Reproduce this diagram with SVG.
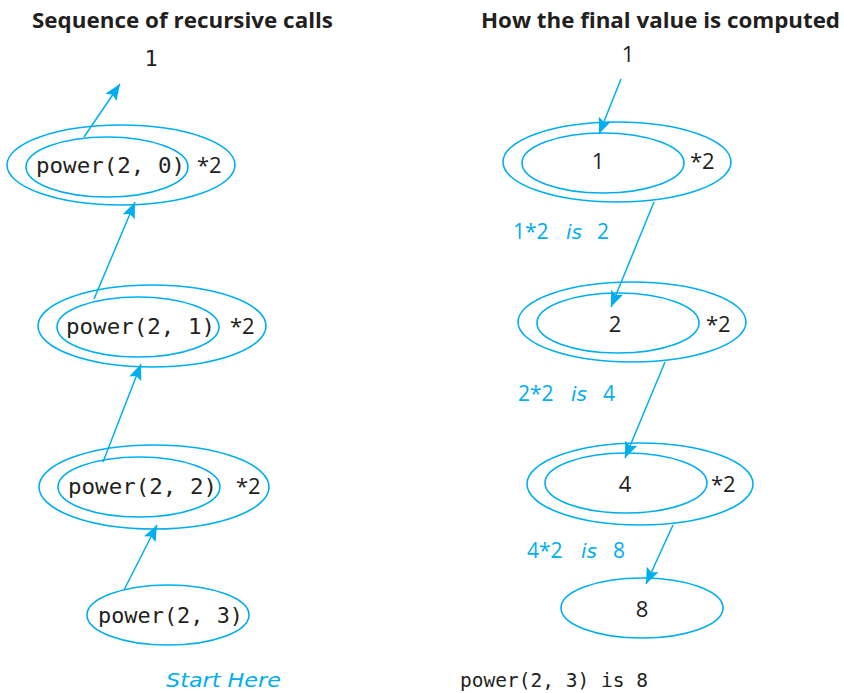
<svg xmlns="http://www.w3.org/2000/svg" width="844" height="693" viewBox="0 0 844 693">
<style>
  .ell{fill:none;stroke:#00aeef;stroke-width:1.6}
  .con{stroke:#00aeef;stroke-width:1.5;fill:none;marker-end:url(#ah)}
  .title{font-family:"Open Sans","Liberation Sans",sans-serif;font-weight:bold;font-size:22px;fill:#231f20}
  .mono{font-family:"DejaVu Sans Mono","Liberation Mono",monospace;font-size:22px;fill:#231f20}
  .sans{font-family:"Open Sans","Liberation Sans",sans-serif;font-size:22px;fill:#231f20}
  .blue{font-family:"Open Sans","Liberation Sans",sans-serif;font-size:21px;fill:#00aeef}
  .hand{font-family:"DejaVu Sans","Liberation Sans",sans-serif;font-style:italic;font-weight:300;font-size:20px;fill:#00aeef}
</style>
<defs>
  <marker id="ah" markerUnits="userSpaceOnUse" markerWidth="18" markerHeight="13" refX="16" refY="6.5" orient="auto">
    <path d="M0,0 L16,6.5 L0,13 L3,6.5 Z" fill="#00aeef"/>
  </marker>
</defs>
<rect width="844" height="693" fill="#ffffff"/>

<text class="title" x="32" y="28" textLength="301" lengthAdjust="spacingAndGlyphs">Sequence of recursive calls</text>
<text class="title" x="481" y="28" textLength="359" lengthAdjust="spacingAndGlyphs">How the final value is computed</text>

<g id="connectors">
  <line class="con" x1="84" y1="137" x2="120" y2="84"/>
  <line class="con" x1="94" y1="299" x2="135" y2="202"/>
  <line class="con" x1="103" y1="462" x2="141" y2="364"/>
  <line class="con" x1="124" y1="590" x2="157" y2="525"/>
  <line class="con" x1="621" y1="79" x2="599" y2="134"/>
  <line class="con" x1="654" y1="202" x2="611" y2="307"/>
  <line class="con" x1="665" y1="362" x2="625" y2="458"/>
  <line class="con" x1="673" y1="525" x2="646" y2="584"/>
</g>

<g id="left-result">
  <text class="mono" x="151" y="66" text-anchor="middle">1</text>
</g>
<g id="call-power-2-0">
  <ellipse class="ell" cx="121" cy="165" rx="114" ry="40"/>
  <ellipse class="ell" cx="107" cy="167" rx="81" ry="30"/>
  <text class="mono" x="36" y="173" textLength="149" lengthAdjust="spacingAndGlyphs">power(2, 0)</text>
  <text class="sans" x="197" y="173">*2</text>
</g>
<g id="call-power-2-1">
  <ellipse class="ell" cx="152" cy="326" rx="114" ry="41"/>
  <ellipse class="ell" cx="138" cy="327" rx="81" ry="30"/>
  <text class="mono" x="66" y="334" textLength="149" lengthAdjust="spacingAndGlyphs">power(2, 1)</text>
  <text class="sans" x="230" y="334">*2</text>
</g>
<g id="call-power-2-2">
  <ellipse class="ell" cx="154" cy="487" rx="115" ry="42"/>
  <ellipse class="ell" cx="139" cy="487" rx="81" ry="30"/>
  <text class="mono" x="68" y="494" textLength="149" lengthAdjust="spacingAndGlyphs">power(2, 2)</text>
  <text class="sans" x="236" y="494">*2</text>
</g>
<g id="call-power-2-3">
  <ellipse class="ell" cx="168" cy="615" rx="81" ry="30"/>
  <text class="mono" x="98" y="623" textLength="145" lengthAdjust="spacingAndGlyphs">power(2, 3)</text>
</g>
<g id="start-here">
  <text class="hand" x="166" y="687" textLength="115" lengthAdjust="spacingAndGlyphs">Start Here</text>
</g>

<g id="right-result">
  <text class="sans" x="628" y="62" text-anchor="middle">1</text>
</g>
<g id="value-1">
  <ellipse class="ell" cx="617" cy="162" rx="114" ry="40"/>
  <ellipse class="ell" cx="603" cy="163" rx="81" ry="30"/>
  <text class="sans" x="598" y="169" text-anchor="middle">1</text>
  <text class="sans" x="690" y="169">*2</text>
</g>
<g id="label-1">
  <text class="blue" x="513" y="239">1*2</text>
  <text class="hand" x="566" y="239">is</text>
  <text class="blue" x="597" y="239">2</text>
</g>
<g id="value-2">
  <ellipse class="ell" cx="632" cy="322" rx="114" ry="40"/>
  <ellipse class="ell" cx="618" cy="323" rx="81" ry="30"/>
  <text class="sans" x="615" y="332" text-anchor="middle">2</text>
  <text class="sans" x="706" y="332">*2</text>
</g>
<g id="label-2">
  <text class="blue" x="518" y="401">2*2</text>
  <text class="hand" x="571" y="401">is</text>
  <text class="blue" x="603" y="401">4</text>
</g>
<g id="value-4">
  <ellipse class="ell" cx="640" cy="484" rx="113" ry="41"/>
  <ellipse class="ell" cx="626" cy="483" rx="81" ry="30"/>
  <text class="sans" x="625" y="492" text-anchor="middle">4</text>
  <text class="sans" x="711" y="492">*2</text>
</g>
<g id="label-3">
  <text class="blue" x="527" y="558">4*2</text>
  <text class="hand" x="581" y="558">is</text>
  <text class="blue" x="613" y="558">8</text>
</g>
<g id="value-8">
  <ellipse class="ell" cx="642" cy="608" rx="81" ry="30"/>
  <text class="sans" x="642" y="617" text-anchor="middle">8</text>
</g>
<g id="final">
  <text class="mono" x="460" y="687" style="font-size:20px" textLength="188" lengthAdjust="spacingAndGlyphs">power(2, 3) is 8</text>
</g>
</svg>
